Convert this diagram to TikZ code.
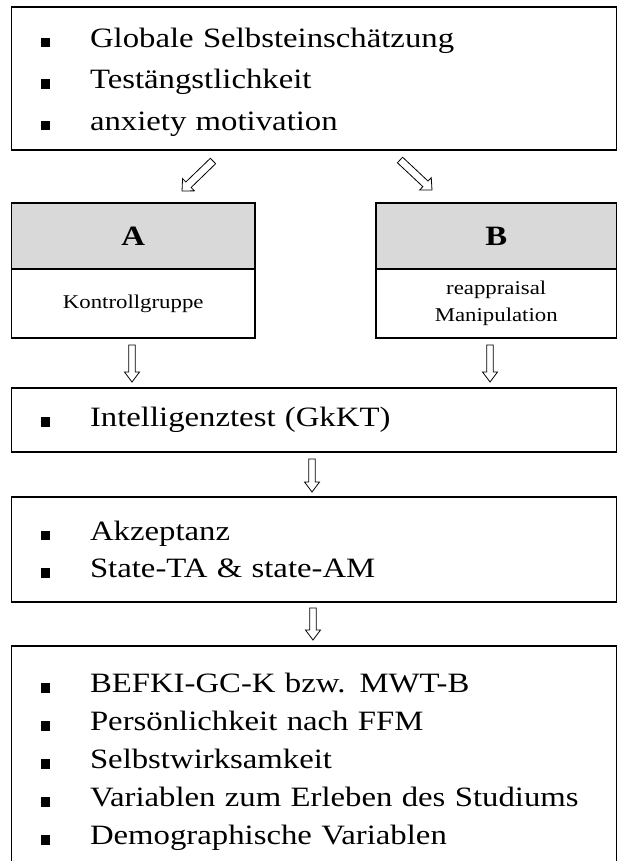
\documentclass[tikz,border=0pt]{standalone}
\usepackage{fontspec}
\setmainfont{Liberation Serif}[FakeStretch=1.17]
\usetikzlibrary{calc}
\definecolor{hdrgray}{RGB}{217,217,217}
% square list bullet followed by a fixed indent
\newcommand\sqbullet{\makebox[49pt][l]{\rule[0pt]{9pt}{9.5pt}}}
\begin{document}
\begin{tikzpicture}[x=1pt,y=-1pt,
  box/.style={draw, line width=1.2pt, inner sep=0pt, outer sep=0pt},
  listbox/.style={box, minimum width=605pt, text width=546pt, align=left, inner xsep=29.5pt},
  headbox/.style={box, fill=hdrgray, minimum height=66pt, font=\fontsize{28}{32}\selectfont\bfseries},
  bodybox/.style={box, minimum height=69pt, align=center, font=\fontsize{19.5}{27}\selectfont},
  ba shaft/.store in=\bashaft, ba head/.store in=\bahead, ba len/.store in=\balen,
  ba shaft=3.2pt, ba head=7.5pt, ba len=10pt,
  blockarrow/.style={draw, fill=white, line width=0.8pt, line join=miter,
    to path={
      let \p1=(\tikztostart), \p2=(\tikztotarget),
          \n1={atan2(\y2-\y1,\x2-\x1)}, \n2={veclen(\x2-\x1,\y2-\y1)}
      in {[shift={(\p1)}, rotate=\n1]
        (0pt,-\bashaft) -- ({\n2*1pt-\balen},-\bashaft) -- ({\n2*1pt-\balen},-\bahead)
        -- ({\n2*1pt},0pt) -- ({\n2*1pt-\balen},\bahead) -- ({\n2*1pt-\balen},\bashaft)
        -- (0pt,\bashaft) -- cycle}
    }},
  diag/.style={blockarrow, ba shaft=3.8pt, ba head=8.5pt, ba len=9pt}
]
\useasboundingbox (0,0) rectangle (618,861);
\clip (0,0) rectangle (618,861);

% screening questionnaires
\node[listbox, minimum height=143pt, font=\fontsize{28}{41.5}\selectfont] (top) at (314,78.5)
  {\rule{0pt}{26.5pt}\sqbullet Globale Selbsteinschätzung\\
   \sqbullet Testängstlichkeit\\
   \sqbullet anxiety motivation};

% experimental groups
\node[headbox, minimum width=243.5pt] (Ahead) at (133.25,236) {A};
\node[bodybox, minimum width=243.5pt] (Abody) at (133.25,303.5) {Kontrollgruppe};
\node[headbox, minimum width=240.5pt] (Bhead) at (496.25,236) {B};
\node[bodybox, minimum width=240.5pt] (Bbody) at (496.25,303.5) {reappraisal\\Manipulation};

% test phase
\node[listbox, minimum height=64pt, font=\fontsize{28}{38}\selectfont] (test) at (314,420)
  {\sqbullet Intelligenztest (GkKT)};

\node[listbox, minimum height=105pt, font=\fontsize{28}{37.5}\selectfont] (state) at (314,549.5)
  {\sqbullet Akzeptanz\\
   \sqbullet State-TA \& state-AM};

\node[listbox, minimum height=232pt, font=\fontsize{28}{38}\selectfont] (post) at (314,762)
  {\sqbullet BEFKI-GC-K bzw. MWT-B\\
   \sqbullet Persönlichkeit nach FFM\\
   \sqbullet Selbstwirksamkeit\\
   \sqbullet Variablen zum Erleben des Studiums\\
   \sqbullet Demographische Variablen};

% random assignment
\draw[diag] ([shift={(-101,11)}]top.south) to ([shift={(48.75,-12)}]Ahead.north);
\draw[diag] ([shift={(86,10)}]top.south) to ([shift={(-64.25,-13)}]Bhead.north);

% flow between the stages
\draw[blockarrow] ([shift={(-1.25,7)}]Abody.south) to ([shift={(-182,-6)}]test.north);
\draw[blockarrow] ([shift={(-6.25,7)}]Bbody.south) to ([shift={(176,-6)}]test.north);
\draw[blockarrow] ([shift={(-2,7)}]test.south) to ([shift={(-2,-5)}]state.north);
\draw[blockarrow] ([shift={(-1,6)}]state.south) to ([shift={(-1,-6)}]post.north);
\end{tikzpicture}
\end{document}
